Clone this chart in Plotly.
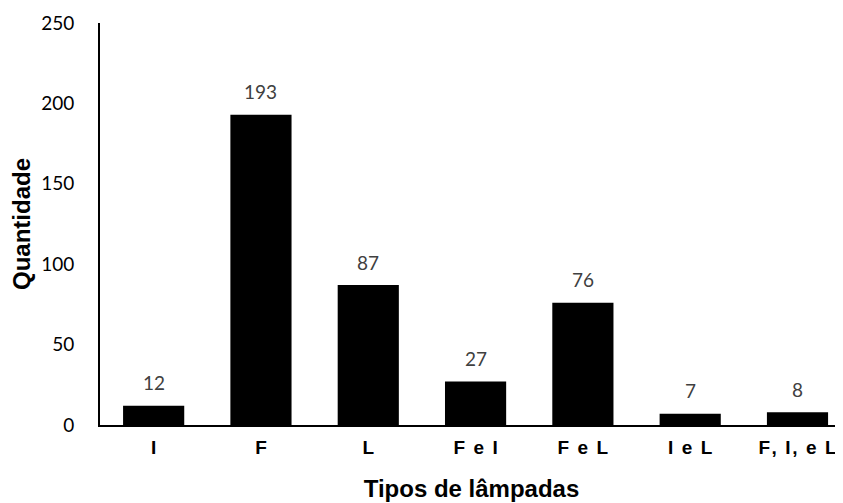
import plotly.graph_objects as go

categories = ["I", "F", "L", "F e I", "F e L", "I e L", "F, I, e L"]
values = [12, 193, 87, 27, 76, 7, 8]
y_ticks = [0, 50, 100, 150, 200, 250]

# Excel-style expanded character spacing for category labels
SP = "\u200a"
tick_text = [SP.join(list(c)) for c in categories]

fig = go.Figure()
fig.add_trace(go.Bar(
    x=list(range(len(categories))), y=values,
    marker=dict(color="#000000", line=dict(width=0)),
    width=0.57, hoverinfo="skip",
))

for i, v in enumerate(values):
    fig.add_annotation(x=i, y=v, text=str(v), showarrow=False,
                       yshift=23, font=dict(family="Lato", size=19, color="#404040"))

# page body has an 8px default margin; compensate so the plot lands where the reference does
fig.update_layout(
    width=835, height=495,
    margin=dict(l=92, r=0, t=15, b=78),
    paper_bgcolor="white", plot_bgcolor="white",
    showlegend=False,
    xaxis=dict(
        range=[-0.5, 6.424], automargin=False,
        tickmode="array", tickvals=list(range(len(categories))), ticktext=tick_text,
        tickfont=dict(family="Liberation Sans", size=19, color="#000000", weight="bold"),
        showline=True, linecolor="#000000", linewidth=2,
        showgrid=False, zeroline=False, ticks="", ticklabelstandoff=4,
        title=dict(text="<b>Tipos de lâmpadas</b>", standoff=23,
                   font=dict(family="Liberation Sans", size=24, color="#000000")),
    ),
    yaxis=dict(
        range=[0, 250], tickmode="array", tickvals=y_ticks, automargin=False,
        tickfont=dict(family="Lato", size=19, color="#000000"),
        showline=True, linecolor="#000000", linewidth=2,
        showgrid=False, zeroline=False, ticks="", ticklabelstandoff=20,
        title=dict(text="<b>Quantidade</b>", standoff=10,
                   font=dict(family="Liberation Sans", size=24, color="#000000")),
    ),
)

fig.write_html("out.html")
